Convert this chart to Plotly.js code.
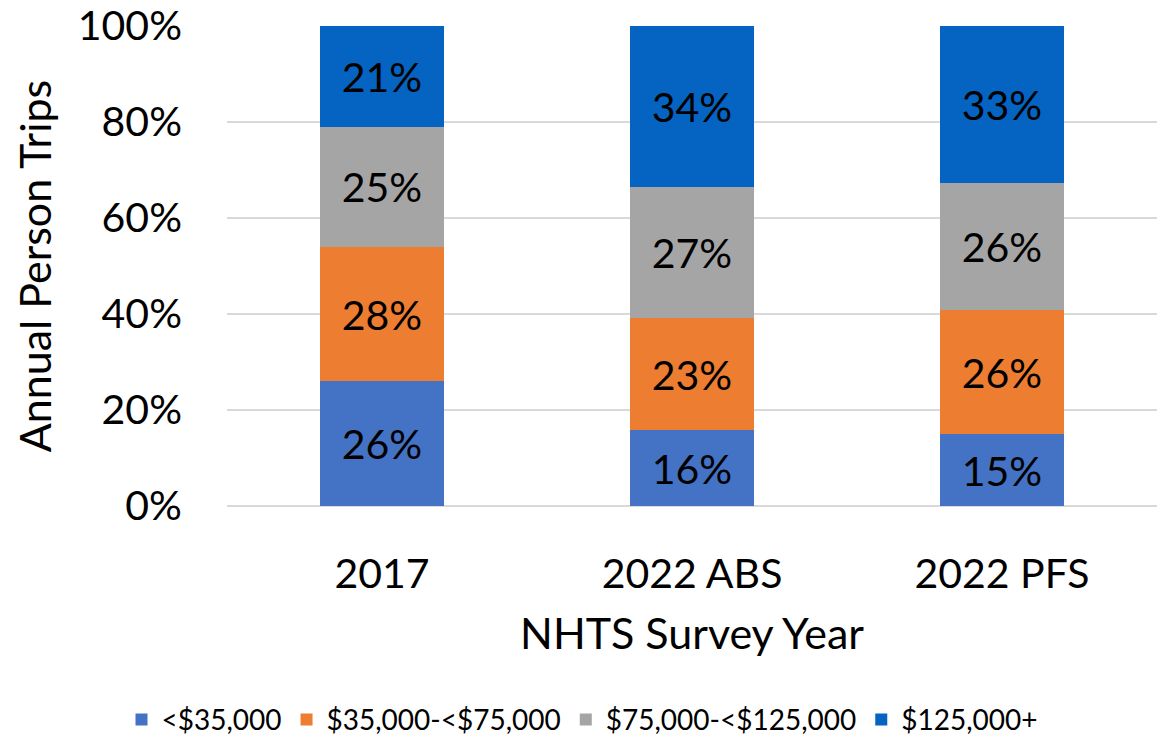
<!DOCTYPE html>
<html>
<head>
<meta charset="utf-8">
<script src="https://cdn.plot.ly/plotly-3.0.1.min.js"></script>
<style>html,body{margin:0;padding:0;background:#fff;}#chart{width:1165px;height:739px;}</style>
</head>
<body>
<div id="chart"></div>
<script>
const categories = ["2017", "2022 ABS", "2022 PFS"];
const seriesNames = ["<$35,000", "$35,000-<$75,000", "$75,000-<$125,000", "$125,000+"];
const under35 = [26.0, 15.8, 15.0];
const from35to75 = [28.0, 23.4, 25.8];
const from75to125 = [25.0, 27.3, 26.4];
const over125 = [21.0, 33.5, 32.8];
const colors = ["#4472C4", "#ED7D31", "#A5A5A5", "#0563C1"];

const seriesValues = [under35, from35to75, from75to125, over125];
const FONT = "Lato, 'Open Sans', sans-serif";

const traces = seriesValues.map((vals, i) => ({
  type: "bar",
  name: seriesNames[i],
  x: categories,
  y: vals,
  text: vals.map(v => Math.round(v) + "%"),
  textposition: "inside",
  insidetextanchor: "middle",
  textfont: {family: FONT, size: 41, color: "#000"},
  marker: {color: colors[i], line: {width: 0}},
  width: 0.4,
  hoverinfo: "name+y"
}));

const layout = {
  barmode: "stack",
  width: 1165, height: 739,
  margin: {l: 227, r: 8, t: 26, b: 233},
  paper_bgcolor: "#fff", plot_bgcolor: "#fff",
  font: {family: FONT, color: "#000"},
  showlegend: true,
  legend: {
    orientation: "h", xref: "container", yref: "container",
    x: 0.5, xanchor: "center", y: 0.026, yanchor: "middle",
    font: {family: FONT, size: 28, color: "#000"},
    traceorder: "normal", itemwidth: 30
  },
  xaxis: {
    type: "category",
    tickfont: {family: FONT, size: 41, color: "#000"},
    ticks: "", showline: false, showgrid: false,
    ticklabelstandoff: 40,
    title: {text: "NHTS Survey Year", font: {family: FONT, size: 43, color: "#000"}, standoff: 22}
  },
  yaxis: {
    range: [0, 100],
    dtick: 20,
    ticksuffix: "%",
    tickfont: {family: FONT, size: 41, color: "#000"},
    showgrid: true, gridcolor: "#d9d9d9", gridwidth: 2,
    zeroline: true, zerolinecolor: "#d9d9d9", zerolinewidth: 2,
    showline: false, ticks: "", ticklen: 0,
    ticklabelstandoff: 44,
    title: {text: "Annual Person Trips", font: {family: FONT, size: 43, color: "#000"}, standoff: 12}
  }
};

Plotly.newPlot("chart", traces, layout, {displayModeBar: false, staticPlot: true});
</script>
</body>
</html>
